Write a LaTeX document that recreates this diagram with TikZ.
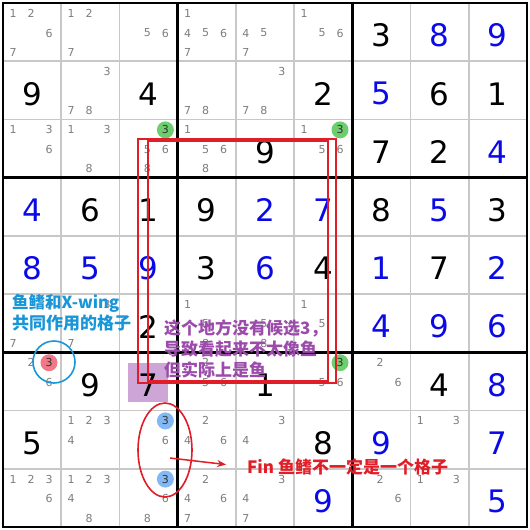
\documentclass[tikz,border=0pt]{standalone}
\usepackage{fontspec}
\setmainfont{DejaVu Sans}
\newfontfamily\cjk{Noto Sans CJK SC}
\usetikzlibrary{arrows.meta,shapes.geometric}
\definecolor{solved}{RGB}{10,10,230}
\definecolor{candgray}{RGB}{125,125,125}
\definecolor{thingray}{RGB}{200,200,200}
\definecolor{finred}{RGB}{225,30,40}
\definecolor{notecyan}{RGB}{25,150,215}
\definecolor{notepurple}{RGB}{155,75,170}
\definecolor{hlgreen}{RGB}{110,205,110}
\definecolor{hlblue}{RGB}{130,185,245}
\definecolor{hlpink}{RGB}{240,120,135}
\definecolor{boxpurple}{RGB}{205,165,215}
\newcommand\cs{58.2}
\newcommand\candpos[3]{%
  \pgfmathsetmacro\cx{3+(#2-1)*\cs+10+18*mod(#3-1,3)}%
  \pgfmathsetmacro\cy{3+(#1-1)*\cs+10.5+19.5*floor((#3-1)/3)}}
\begin{document}
\begin{tikzpicture}[x=1pt,y=-1pt,
    given/.style={font=\fontsize{31}{31}\selectfont,inner sep=0pt},
    cand/.style={font=\fontsize{11}{11}\selectfont,text=candgray,inner sep=0pt},
    hlcand/.style={font=\fontsize{11}{11}\selectfont,text=black!80,inner sep=0pt},
    note/.style={font=\cjk\bfseries\fontsize{17}{21}\selectfont,align=left,inner sep=0pt,anchor=west},
    fishbox/.style={draw=finred,line width=1.8}]
  \useasboundingbox (0,0) rectangle (530,530);
  \fill[white] (0,0) rectangle (530,530);
  \fill[boxpurple] (128,363) rectangle (168,402);
  \foreach \i in {1,2,4,5,7,8}{
    \draw[thingray,line width=1.8] (3+\i*\cs,3) -- (3+\i*\cs,527);
    \draw[thingray,line width=1.8] (3,3+\i*\cs) -- (527,3+\i*\cs);
  }
  \foreach \i in {0,3,6,9}{
    \draw[line width=2.6] (3+\i*\cs,1.7) -- (3+\i*\cs,528.3);
    \draw[line width=2.6] (1.7,3+\i*\cs) -- (528.3,3+\i*\cs);
  }
  \foreach \r/\c/\k/\hl in {3/3/3/hlgreen,3/6/3/hlgreen,7/6/3/hlgreen,8/3/3/hlblue,9/3/3/hlblue,7/1/3/hlpink}{
    \candpos\r\c\k
    \fill[\hl] (\cx,\cy) circle (8.5);
    \node[hlcand] (h\r\c) at (\cx,\cy) {\k};
  }
  \foreach \r/\c/\ks in {1/1/{1,2,6,7},1/2/{1,2,7},1/3/{5,6},1/4/{1,4,5,6,7},1/5/{4,5,7},1/6/{1,5,6},
      2/2/{3,7,8},2/4/{7,8},2/5/{3,7,8},
      3/1/{1,3,6},3/2/{1,3,8},3/3/{5,6,8},3/4/{1,5,6,8},3/6/{1,5,6},
      6/1/{3,7},6/2/{3,7},6/4/{1,5,8},6/5/{5,8},6/6/{1,5},
      7/1/{2,6},7/4/{2,5,6},7/6/{5,6},7/7/{2,6},
      8/2/{1,2,3,4},8/3/{6},8/4/{2,4,6},8/5/{3,4},8/8/{1,3},
      9/1/{1,2,3,6},9/2/{1,2,3,4,8},9/3/{6,8},9/4/{2,4,6,7},9/5/{3,4,7},9/7/{2,6},9/8/{1,3}}{
    \foreach \k in \ks{
      \candpos\r\c\k
      \node[cand] (c\r\c\k) at (\cx,\cy) {\k};
    }
  }
  \foreach \r/\c/\v/\col in {1/7/3/black,1/8/8/solved,1/9/9/solved,
      2/1/9/black,2/3/4/black,2/6/2/black,2/7/5/solved,2/8/6/black,2/9/1/black,
      3/5/9/black,3/7/7/black,3/8/2/black,3/9/4/solved,
      4/1/4/solved,4/2/6/black,4/3/1/black,4/4/9/black,4/5/2/solved,4/6/7/solved,4/7/8/black,4/8/5/solved,4/9/3/black,
      5/1/8/solved,5/2/5/solved,5/3/9/solved,5/4/3/black,5/5/6/solved,5/6/4/black,5/7/1/solved,5/8/7/black,5/9/2/solved,
      6/3/2/black,6/7/4/solved,6/8/9/solved,6/9/6/solved,
      7/2/9/black,7/3/7/black,7/5/1/black,7/8/4/black,7/9/8/solved,
      8/1/5/black,8/6/8/black,8/7/9/solved,8/9/7/solved,
      9/6/9/solved,9/9/5/solved}{
    \node[given,text=\col] (g\r\c) at (3+\c*\cs-\cs/2,3+\r*\cs-\cs/2+3.5) {\v};
  }
  \draw[fishbox] (138,139) rectangle (336,383);
  \draw[fishbox] (148,141) rectangle (328,381);
  \node[draw=notecyan,circle,line width=1.6,minimum size=42,inner sep=0pt] (elim) at (54,362) {};
  \node[draw=finred,ellipse,line width=1.6,minimum width=54,minimum height=94,inner sep=0pt] (finring) at (165,450) {};
  \node[note,text=notecyan] (xwnote) at (12,313) {\fontsize{16.5}{23}\selectfont 鱼鳍和X-wing\\共同作用的格子};
  \node[note,text=notepurple] (fishnote) at (164,349) {这个地方没有候选3，\\导致看起来不太像鱼\\但实际上是鱼};
  \node[note,text=finred] (finnote) at (247,467) {Fin 鱼鳍不一定是一个格子};
  \draw[finred,line width=1.5,-{Stealth[length=9,width=7]},shorten >=21] ([shift={(5,8)}]finring.center) -- (finnote.west);
\end{tikzpicture}
\end{document}
